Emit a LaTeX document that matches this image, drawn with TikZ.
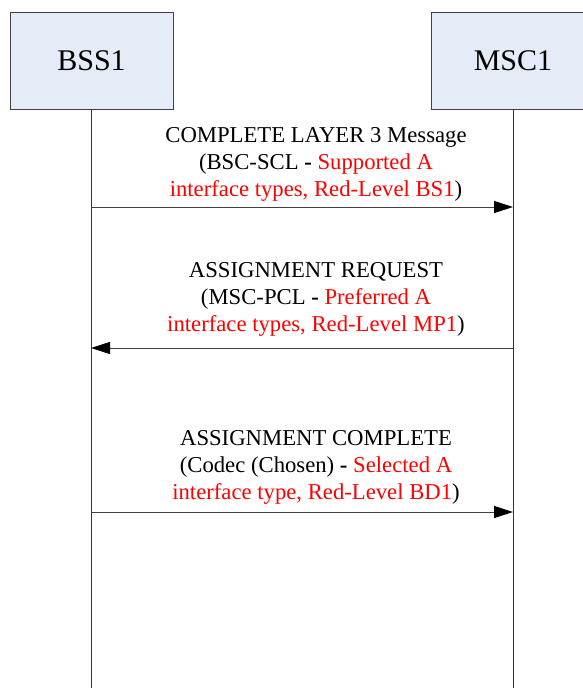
\documentclass[tikz,border=0pt]{standalone}
\usepackage{fontspec}
\setmainfont{Liberation Serif}
\usepackage{tikz}
\usetikzlibrary{arrows.meta}
\definecolor{boxblue}{HTML}{E6ECF7}
\tikzset{
	entity/.style={draw=black!75, fill=boxblue, line width=0.9pt, minimum width=163pt, minimum height=97pt, inner sep=0pt, font=\fontsize{30}{34}\selectfont},
	msgtext/.style={align=center, inner sep=0pt, anchor=south, font=\fontsize{22.7}{27}\selectfont},
	lifeline/.style={draw=black!80, line width=0.9pt},
	msg/.style={draw=black!75, line width=1pt, -{Triangle[length=19pt,width=12pt,color=black,fill=black]}}
}
\newcommand{\redtxt}[1]{\textcolor{red}{#1}}

\begin{document}
\begin{tikzpicture}[x=1pt,y=-1pt]
			%%%%% START %%%%%
			
			\useasboundingbox (0, 0) rectangle (583, 688);
			\clip (0, 0) rectangle (583, 688);
			
			\node[entity] (bss) at (91.5, 60.5) {BSS1};
			\node[entity] (msc) at (513, 60.5) {MSC1};
			
			\coordinate (bssend) at (91, 688);
			\coordinate (mscend) at (513, 688);
			\draw[lifeline] (bss.south -| bssend) -- (bssend);
			\draw[lifeline] (msc.south -| mscend) -- (mscend);
			
			\coordinate (b1) at (91, 207);
			\coordinate (m1) at (513, 207);
			\coordinate (b2) at (91, 348);
			\coordinate (m2) at (513, 348);
			\coordinate (b3) at (91, 512);
			\coordinate (m3) at (513, 512);
			
			\draw[msg] (b1) -- (m1);
			\node[msgtext] (t1) at (316, 202) {COMPLETE LAYER 3 Message\\(BSC-SCL \textbf{-} \redtxt{Supported A}\\\redtxt{interface types, Red-Level BS1})};
			
			\draw[msg] (m2) -- (b2);
			\node[msgtext] (t2) at (316, 337) {ASSIGNMENT REQUEST\\(MSC-PCL \textbf{-} \redtxt{Preferred A}\\\redtxt{interface types, Red-Level MP1})};
			
			\draw[msg] (b3) -- (m3);
			\node[msgtext] (t3) at (316, 505) {ASSIGNMENT COMPLETE\\(Codec (Chosen) \textbf{-} \redtxt{Selected A}\\\redtxt{interface type, Red-Level BD1})};
			
			%%%%% END %%%%%
\end{tikzpicture}
\end{document}
